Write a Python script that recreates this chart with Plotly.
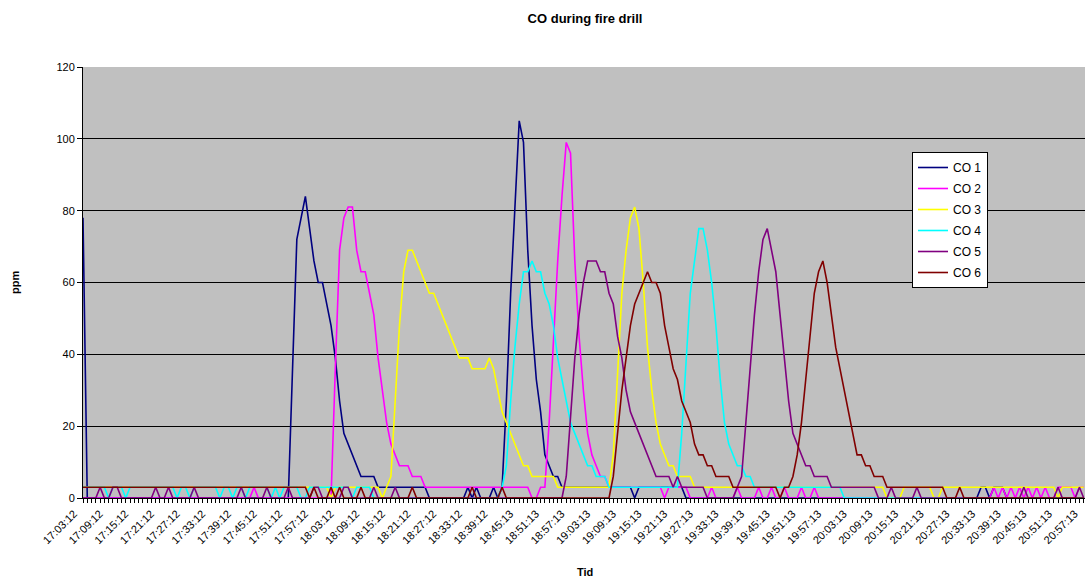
import plotly.graph_objects as go

# Tick labels (every 6th one-minute sample)
tick_labels = ["17:03:12", "17:09:12", "17:15:12", "17:21:12", "17:27:12", "17:33:12",
               "17:39:12", "17:45:12", "17:51:12", "17:57:12", "18:03:12", "18:09:12",
               "18:15:12", "18:21:12", "18:27:12", "18:33:12", "18:39:12", "18:45:13",
               "18:51:13", "18:57:13", "19:03:13", "19:09:13", "19:15:13", "19:21:13",
               "19:27:13", "19:33:13", "19:39:13", "19:45:13", "19:51:13", "19:57:13",
               "20:03:13", "20:09:13", "20:15:13", "20:21:13", "20:27:13", "20:33:13",
               "20:39:13", "20:45:13", "20:51:13", "20:57:13"]

co1 = [78, 0, 0, 0, 0, 0, 0, 0, 0, 0,
       0, 0, 0, 0, 0, 0, 0, 0, 0, 0,
       0, 0, 0, 0, 0, 0, 0, 0, 0, 0,
       0, 0, 0, 0, 0, 0, 0, 0, 0, 0,
       0, 0, 0, 0, 0, 0, 0, 0, 0, 36,
       72, 78, 84, 75, 66, 60, 60, 54, 48, 39,
       27, 18, 15, 12, 9, 6, 6, 6, 6, 3,
       3, 3, 3, 3, 3, 3, 3, 3, 3, 3,
       3, 0, 0, 0, 0, 0, 0, 0, 0, 0,
       3, 0, 3, 0, 0, 0, 3, 0, 3, 27,
       57, 81, 105, 99, 69, 48, 33, 24, 12, 9,
       6, 6, 3, 3, 3, 3, 3, 3, 3, 3,
       3, 3, 3, 3, 3, 3, 3, 3, 3, 0,
       3, 3, 3, 3, 3, 3, 3, 3, 3, 3,
       3, 0, 0, 0, 0, 0, 0, 0, 0, 0,
       0, 0, 0, 0, 0, 0, 0, 0, 0, 0,
       0, 0, 0, 0, 0, 0, 0, 0, 0, 0,
       0, 0, 0, 0, 0, 0, 0, 0, 0, 0,
       0, 0, 0, 0, 0, 0, 0, 0, 0, 0,
       0, 0, 0, 0, 0, 0, 0, 0, 0, 0,
       0, 0, 0, 0, 0, 0, 0, 0, 0, 0,
       3, 3, 0, 3, 3, 3, 0, 0, 0, 0,
       0, 0, 0, 0, 0, 0, 0, 0, 0, 0,
       0, 0, 0, 0, 0]

co2 = [0, 0, 0, 0, 0, 0, 0, 0, 0, 0,
       0, 0, 0, 0, 0, 0, 0, 0, 0, 0,
       0, 0, 0, 0, 0, 0, 0, 0, 0, 0,
       0, 0, 0, 0, 0, 0, 0, 0, 0, 0,
       3, 0, 0, 0, 0, 0, 0, 0, 0, 0,
       0, 0, 0, 0, 0, 0, 0, 0, 0, 36,
       69, 78, 81, 81, 69, 63, 63, 57, 51, 39,
       30, 21, 15, 12, 9, 9, 9, 6, 6, 6,
       3, 3, 3, 3, 3, 3, 3, 3, 3, 3,
       3, 3, 3, 3, 3, 3, 3, 3, 3, 3,
       3, 3, 3, 3, 3, 0, 0, 3, 3, 21,
       45, 66, 84, 99, 96, 66, 45, 30, 18, 12,
       9, 6, 6, 3, 3, 3, 3, 3, 3, 3,
       3, 3, 3, 3, 3, 3, 0, 3, 3, 3,
       3, 3, 0, 0, 0, 0, 0, 3, 0, 0,
       0, 0, 0, 3, 0, 0, 0, 0, 3, 0,
       0, 3, 0, 0, 3, 0, 0, 0, 3, 0,
       0, 3, 0, 0, 0, 0, 0, 0, 0, 0,
       0, 0, 0, 0, 0, 0, 0, 0, 0, 0,
       0, 0, 0, 0, 0, 0, 0, 0, 0, 0,
       0, 0, 0, 0, 0, 0, 0, 0, 0, 0,
       0, 0, 0, 3, 0, 3, 0, 3, 0, 3,
       0, 3, 0, 3, 0, 3, 0, 0, 3, 3,
       3, 3, 0, 3, 3]

co3 = [3, 3, 3, 3, 3, 3, 3, 3, 3, 3,
       3, 3, 3, 3, 3, 3, 3, 3, 3, 3,
       3, 3, 3, 3, 3, 3, 3, 3, 3, 3,
       3, 3, 3, 3, 3, 3, 3, 3, 3, 3,
       3, 3, 3, 3, 3, 3, 3, 3, 3, 3,
       3, 3, 3, 3, 3, 3, 3, 3, 0, 3,
       3, 3, 3, 3, 3, 3, 3, 3, 3, 3,
       0, 3, 6, 27, 48, 63, 69, 69, 66, 63,
       60, 57, 57, 54, 51, 48, 45, 42, 39, 39,
       39, 36, 36, 36, 36, 39, 36, 30, 24, 21,
       18, 15, 12, 9, 9, 6, 6, 6, 6, 6,
       6, 3, 3, 3, 3, 3, 3, 3, 3, 3,
       3, 3, 3, 3, 12, 36, 57, 69, 78, 81,
       75, 60, 42, 30, 21, 15, 12, 9, 9, 6,
       6, 6, 6, 3, 3, 3, 3, 3, 3, 3,
       3, 3, 3, 3, 3, 3, 3, 3, 3, 3,
       3, 3, 3, 3, 3, 3, 3, 3, 3, 3,
       3, 3, 3, 3, 3, 3, 3, 3, 3, 3,
       3, 3, 3, 3, 3, 3, 3, 3, 0, 0,
       0, 0, 3, 3, 3, 3, 3, 3, 3, 0,
       0, 3, 3, 3, 3, 3, 3, 3, 3, 3,
       3, 3, 3, 3, 3, 3, 3, 3, 3, 3,
       3, 3, 3, 3, 3, 3, 3, 3, 0, 3,
       3, 3, 3, 3, 3]

co4 = [3, 3, 3, 3, 3, 3, 0, 3, 3, 3,
       0, 3, 3, 3, 3, 3, 3, 3, 3, 3,
       3, 3, 0, 3, 3, 0, 3, 3, 3, 3,
       3, 3, 0, 3, 3, 0, 3, 3, 0, 3,
       3, 3, 3, 3, 0, 3, 0, 3, 3, 3,
       3, 0, 0, 3, 3, 3, 3, 3, 3, 3,
       3, 3, 3, 0, 3, 3, 3, 3, 0, 0,
       0, 0, 0, 0, 0, 0, 0, 0, 0, 0,
       0, 0, 0, 0, 0, 0, 0, 0, 0, 0,
       0, 0, 0, 0, 0, 0, 0, 0, 3, 9,
       27, 42, 54, 63, 63, 66, 63, 63, 57, 54,
       48, 39, 33, 27, 21, 18, 15, 12, 9, 9,
       6, 6, 6, 3, 3, 3, 3, 3, 3, 3,
       3, 3, 3, 3, 3, 3, 3, 3, 3, 3,
       18, 36, 57, 66, 75, 75, 69, 60, 48, 33,
       21, 15, 12, 9, 9, 6, 6, 3, 3, 3,
       3, 3, 3, 3, 3, 3, 3, 3, 3, 3,
       3, 3, 3, 3, 3, 3, 3, 3, 0, 0,
       0, 0, 0, 0, 0, 0, 0, 0, 0, 0,
       0, 0, 0, 0, 0, 0, 0, 0, 0, 0,
       0, 0, 0, 0, 0, 0, 0, 0, 0, 0,
       0, 0, 0, 0, 0, 0, 0, 0, 0, 0,
       0, 0, 0, 0, 0, 0, 0, 0, 0, 0,
       0, 0, 0, 0, 0]

co5 = [0, 0, 0, 0, 3, 0, 0, 3, 3, 0,
       0, 0, 0, 0, 0, 0, 0, 3, 0, 0,
       3, 0, 0, 0, 0, 0, 3, 0, 0, 0,
       0, 0, 0, 0, 0, 0, 0, 3, 0, 0,
       0, 0, 0, 3, 0, 0, 0, 0, 3, 0,
       0, 0, 0, 0, 3, 3, 0, 0, 0, 0,
       0, 3, 3, 0, 0, 0, 0, 0, 3, 0,
       0, 0, 0, 3, 0, 0, 0, 0, 0, 0,
       0, 0, 0, 0, 0, 0, 0, 0, 0, 0,
       0, 0, 0, 0, 0, 0, 0, 0, 0, 0,
       0, 0, 0, 0, 0, 0, 0, 0, 0, 0,
       0, 0, 0, 6, 24, 39, 51, 60, 66, 66,
       66, 63, 63, 57, 54, 45, 39, 30, 24, 21,
       18, 15, 12, 9, 6, 6, 6, 6, 3, 6,
       3, 3, 3, 3, 3, 3, 0, 0, 0, 0,
       0, 0, 0, 3, 6, 21, 36, 51, 63, 72,
       75, 69, 63, 51, 39, 27, 18, 15, 12, 9,
       9, 6, 6, 6, 6, 3, 3, 3, 3, 3,
       3, 3, 3, 3, 3, 3, 0, 0, 0, 3,
       0, 0, 0, 0, 0, 3, 0, 0, 0, 0,
       0, 0, 0, 0, 0, 0, 0, 0, 0, 0,
       0, 0, 0, 0, 0, 0, 0, 0, 0, 0,
       3, 0, 0, 0, 0, 0, 0, 0, 3, 0,
       0, 0, 0, 3, 0]

co6 = [3, 3, 3, 3, 3, 3, 3, 3, 3, 3,
       3, 3, 3, 3, 3, 3, 3, 3, 3, 3,
       3, 3, 3, 3, 3, 3, 3, 3, 3, 3,
       3, 3, 3, 3, 3, 3, 3, 3, 3, 3,
       3, 3, 3, 3, 3, 3, 3, 3, 3, 3,
       3, 3, 3, 0, 3, 0, 0, 0, 3, 0,
       3, 0, 0, 0, 0, 3, 0, 0, 0, 0,
       0, 0, 0, 0, 0, 0, 0, 3, 0, 0,
       0, 0, 0, 0, 0, 0, 0, 0, 0, 0,
       0, 3, 0, 0, 0, 0, 0, 0, 3, 0,
       0, 0, 0, 0, 0, 0, 0, 0, 0, 0,
       0, 0, 0, 0, 0, 0, 0, 0, 0, 0,
       0, 0, 0, 0, 6, 18, 30, 39, 48, 54,
       57, 60, 63, 60, 60, 57, 48, 42, 36, 33,
       27, 24, 21, 15, 12, 12, 9, 9, 6, 6,
       6, 6, 3, 3, 3, 3, 3, 3, 3, 3,
       3, 3, 3, 0, 3, 3, 6, 12, 21, 33,
       45, 57, 63, 66, 60, 51, 42, 36, 30, 24,
       18, 12, 12, 9, 9, 6, 6, 6, 3, 3,
       3, 3, 3, 3, 3, 3, 3, 3, 3, 3,
       3, 3, 0, 0, 0, 3, 0, 0, 0, 0,
       0, 0, 0, 0, 0, 0, 0, 0, 0, 0,
       0, 0, 0, 0, 0, 0, 0, 0, 0, 0,
       0, 0, 0, 0, 0]

series_names = ["CO 1", "CO 2", "CO 3", "CO 4", "CO 5", "CO 6"]
series_values = [co1, co2, co3, co4, co5, co6]
series_colors = ["#000080", "#FF00FF", "#FFFF00", "#00FFFF", "#800080", "#800000"]

n = len(co1)
x = list(range(n))
tick_positions = list(range(0, n, 6))[:len(tick_labels)]

fig = go.Figure()
for name, vals, col in zip(series_names, series_values, series_colors):
    fig.add_trace(go.Scatter(x=x[:len(vals)], y=vals, mode="lines", name=name,
                             legendgroup=name,
                             line=dict(color=col, width=1.6)))

FONT = "Arial, Liberation Sans, sans-serif"
W, H = 1085, 581
ml, mr, mt, mb = 83, 0, 67, 83
pw, ph = W - ml - mr, H - mt - mb

fig.update_layout(
    width=W, height=H,
    margin=dict(l=ml, r=mr, t=mt, b=mb),
    paper_bgcolor="white",
    plot_bgcolor="#C0C0C0",
    font=dict(family=FONT, size=11, color="black"),
    title=dict(text="<b>CO during fire drill</b>", x=585 / W, xanchor="center",
               y=1 - 18 / H, yanchor="middle", font=dict(size=13, family=FONT)),
    showlegend=True,
    legend=dict(x=(912 - ml) / pw, y=(H - mb - 152) / ph, xanchor="left", yanchor="top",
                bgcolor="white", bordercolor="black", borderwidth=1,
                font=dict(size=12, family=FONT), itemwidth=30, tracegroupgap=2),
    xaxis=dict(range=[0, 234.3], tickmode="array", tickvals=tick_positions,
               ticktext=tick_labels, tickangle=-45, ticks="outside", ticklen=4,
               tickcolor="black", showgrid=False, zeroline=False, showline=True,
               linecolor="black", linewidth=1, tickfont=dict(size=11),
               ticklabelshift=-9,
               minor=dict(tickmode="linear", tick0=0, dtick=1, ticks="outside",
                          ticklen=4, tickcolor="black", showgrid=False)),
    yaxis=dict(range=[0, 120], dtick=20, showgrid=True, gridcolor="black", gridwidth=1,
               zeroline=False, showline=True, linecolor="black", linewidth=1,
               ticks="outside", ticklen=5, tickcolor="black", tickfont=dict(size=11)),
    annotations=[
        dict(text="<b>ppm</b>", x=(15 - ml) / pw, y=(H - mb - 283) / ph, xref="paper",
             yref="paper", xanchor="center", yanchor="middle", showarrow=False,
             textangle=-90, font=dict(size=11)),
        dict(text="<b>Tid</b>", x=(585 - ml) / pw, y=(H - mb - 572) / ph, xref="paper",
             yref="paper", xanchor="center", yanchor="middle", showarrow=False,
             font=dict(size=11)),
    ],
)

fig.write_html("out.html")
